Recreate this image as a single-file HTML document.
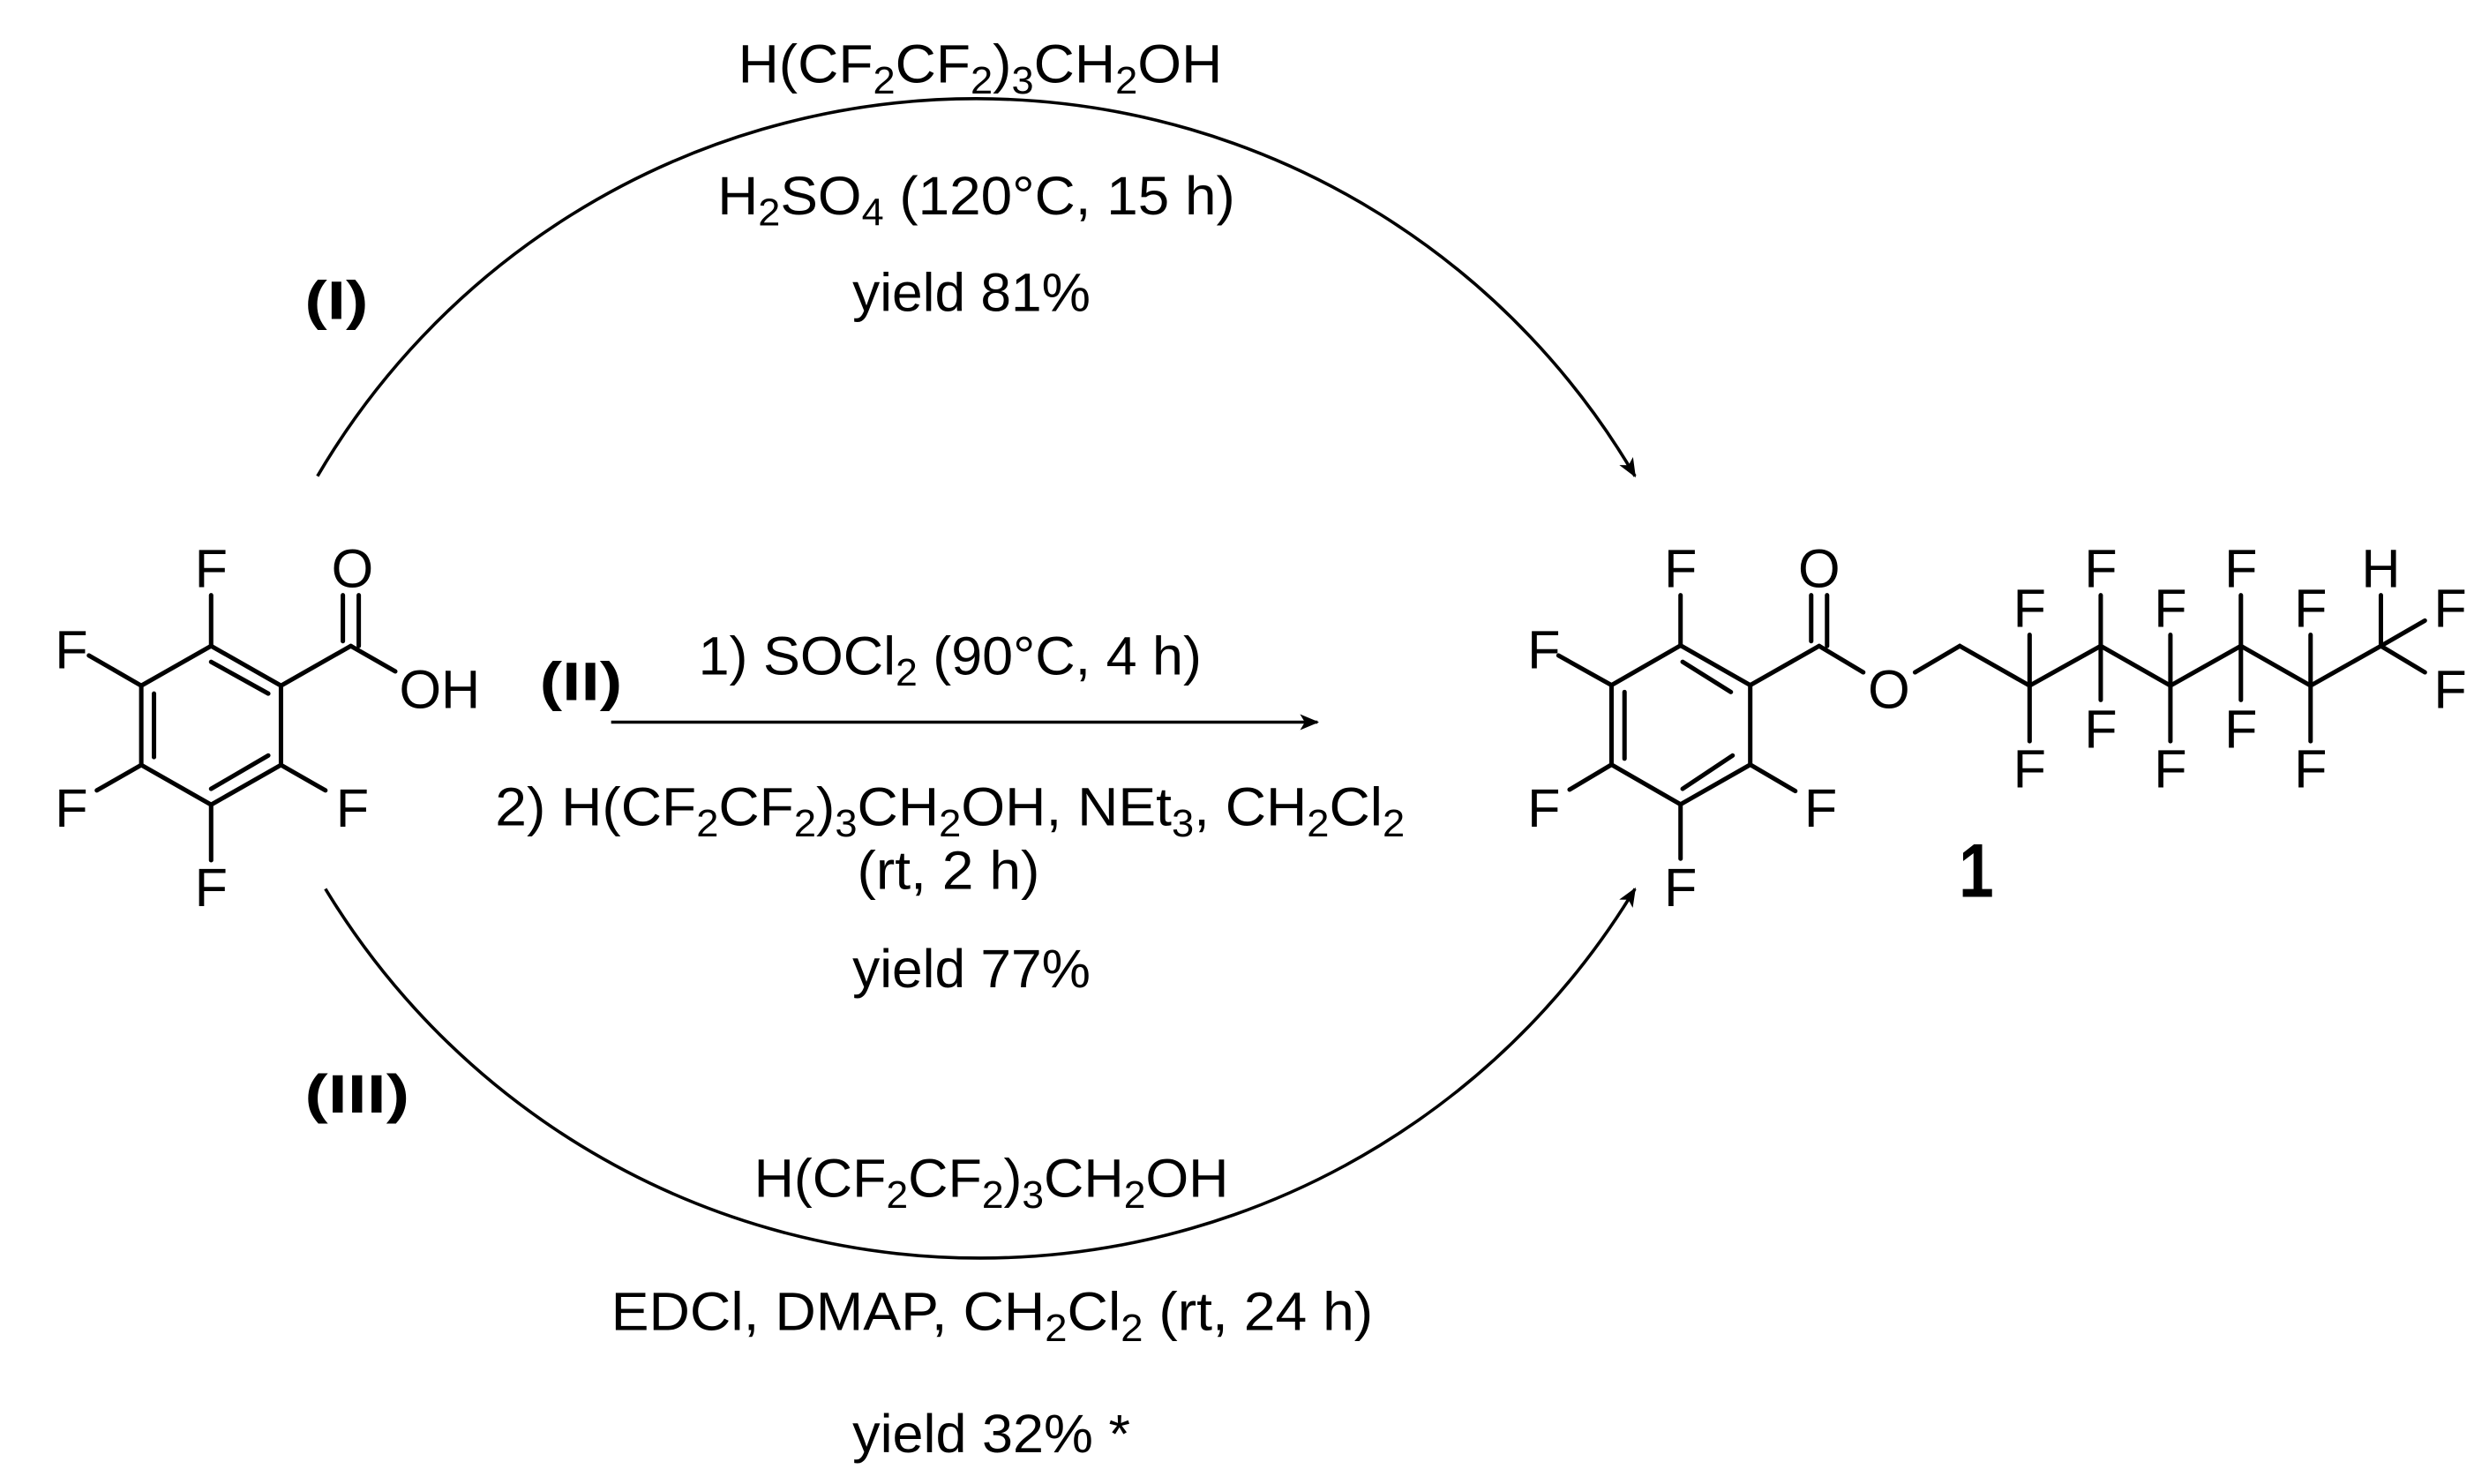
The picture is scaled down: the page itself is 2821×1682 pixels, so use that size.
<!DOCTYPE html>
<html><head><meta charset="utf-8"><style>html,body{margin:0;padding:0;background:#fff}svg{display:block}</style></head>
<body>
<svg xmlns="http://www.w3.org/2000/svg" width="2821" height="1682" viewBox="0 0 1568 935" preserveAspectRatio="none" font-family="Liberation Sans, Arial, sans-serif">
<defs>
<marker id="ah" viewBox="0 0 12 10" refX="11" refY="5" markerWidth="12" markerHeight="10" markerUnits="userSpaceOnUse" orient="auto">
<path d="M0,0 L12,5 L0,10 L3,5 Z" fill="#000"/></marker>
</defs>
<rect width="1568" height="935" fill="#fff"/>
<g fill="none" stroke="#000" stroke-width="2">
<path d="M200,300 A481,481 0 0 1 1030,300" marker-end="url(#ah)"/>
<path d="M205,560 A482,482 0 0 0 1030,560" marker-end="url(#ah)"/>
<line x1="385" y1="455" x2="830" y2="455" marker-end="url(#ah)"/>
</g>
<g stroke="#000" stroke-width="2.8" fill="none" stroke-linecap="round">
<path d="M133,407 L177,432 L177,482 L133,507 L89,482 L89,432 Z"/>
<line x1="133" y1="417" x2="169" y2="437"/>
<line x1="169" y1="476" x2="133" y2="497"/>
<line x1="97" y1="437" x2="97" y2="477"/>
<line x1="133" y1="407" x2="133" y2="375"/>
<line x1="89" y1="432" x2="56" y2="413"/>
<line x1="89" y1="482" x2="61" y2="498"/>
<line x1="133" y1="507" x2="133" y2="542"/>
<line x1="177" y1="482" x2="205" y2="498"/>
<line x1="177" y1="432" x2="221" y2="407"/>
<line x1="216" y1="404" x2="216" y2="375"/>
<line x1="226" y1="407" x2="226" y2="375"/>
<line x1="221" y1="407" x2="249" y2="423"/>
</g>
<g font-size="34" text-anchor="middle" fill="#000">
<text x="133" y="370">F</text>
<text x="222" y="370">O</text>
<text x="277" y="446">OH</text>
<text x="45" y="421">F</text>
<text x="45" y="521">F</text>
<text x="222" y="521">F</text>
<text x="133" y="571">F</text>
</g>
<g stroke="#000" stroke-width="2.8" fill="none" stroke-linecap="round">
<path d="M1058.7,406.7 L1102.6,431.7 L1102.6,481.8 L1058.7,506.8 L1015.2,481.8 L1015.2,431.7 Z"/>
<line x1="1060" y1="417" x2="1090.4" y2="436"/>
<line x1="1091.5" y1="476" x2="1060" y2="497"/>
<line x1="1023.4" y1="436" x2="1023.4" y2="478"/>
<line x1="1058.7" y1="406.7" x2="1058.7" y2="375"/>
<line x1="1015.2" y1="431.7" x2="981.8" y2="413"/>
<line x1="1015.2" y1="481.8" x2="988.8" y2="497.5"/>
<line x1="1102.6" y1="481.8" x2="1131" y2="498.4"/>
<line x1="1058.7" y1="506.8" x2="1058.7" y2="541"/>
<line x1="1102.6" y1="431.7" x2="1146" y2="407"/>
<line x1="1141" y1="404" x2="1141" y2="375"/>
<line x1="1151" y1="407" x2="1151" y2="375"/>
<polyline points="1146,407 1173.8,423.6"/>
<polyline points="1206.4,423.6 1234.6,407 1278.6,432 1323.4,407 1367.3,432 1411.7,407 1455.6,432 1499.9,407"/>
<line x1="1499.9" y1="407" x2="1527.6" y2="391"/>
<line x1="1499.9" y1="407" x2="1527.6" y2="423.6"/>
<line x1="1499.9" y1="407" x2="1499.9" y2="375"/>
<line x1="1278.6" y1="400" x2="1278.6" y2="467"/>
<line x1="1323.4" y1="375" x2="1323.4" y2="441"/>
<line x1="1367.3" y1="400" x2="1367.3" y2="467"/>
<line x1="1411.7" y1="375" x2="1411.7" y2="441"/>
<line x1="1455.6" y1="400" x2="1455.6" y2="467"/>
</g>
<g font-size="34" text-anchor="middle" fill="#000">
<text x="1058.7" y="370">F</text>
<text x="1146" y="370">O</text>
<text x="972.6" y="421">F</text>
<text x="972.6" y="521">F</text>
<text x="1147" y="521">F</text>
<text x="1058.7" y="571">F</text>
<text x="1190" y="446">O</text>
<text x="1278.6" y="395">F</text><text x="1278.6" y="496">F</text>
<text x="1323.4" y="370">F</text><text x="1323.4" y="471">F</text>
<text x="1367.3" y="395">F</text><text x="1367.3" y="496">F</text>
<text x="1411.7" y="370">F</text><text x="1411.7" y="471">F</text>
<text x="1455.6" y="395">F</text><text x="1455.6" y="496">F</text>
<text x="1499.9" y="370">H</text>
<text x="1543.6" y="395">F</text>
<text x="1543.6" y="446">F</text>
<text x="1245" y="565" font-size="48" font-weight="bold" textLength="22" lengthAdjust="spacingAndGlyphs">1</text>
</g>
<g font-size="34" fill="#000">
<text x="465" y="52" textLength="305" lengthAdjust="spacingAndGlyphs">H(CF<tspan font-size="24" dy="7">2</tspan><tspan dy="-7">CF</tspan><tspan font-size="24" dy="7">2</tspan><tspan dy="-7">)</tspan><tspan font-size="24" dy="7">3</tspan><tspan dy="-7">CH</tspan><tspan font-size="24" dy="7">2</tspan><tspan dy="-7">OH</tspan></text>
<text x="452" y="135" textLength="326" lengthAdjust="spacingAndGlyphs">H<tspan font-size="24" dy="7">2</tspan><tspan dy="-7">SO</tspan><tspan font-size="24" dy="7">4</tspan><tspan dy="-7"> (120°C, 15 h)</tspan></text>
<text x="537" y="196" textLength="150" lengthAdjust="spacingAndGlyphs">yield 81%</text>
<text x="192" y="201" font-weight="bold" textLength="40" lengthAdjust="spacingAndGlyphs">(I)</text>
<text x="340" y="441" font-weight="bold" textLength="52" lengthAdjust="spacingAndGlyphs">(II)</text>
<text x="440" y="425" textLength="317" lengthAdjust="spacingAndGlyphs">1) SOCl<tspan font-size="24" dy="7">2</tspan><tspan dy="-7"> (90°C, 4 h)</tspan></text>
<text x="312" y="520" textLength="573" lengthAdjust="spacingAndGlyphs">2) H(CF<tspan font-size="24" dy="7">2</tspan><tspan dy="-7">CF</tspan><tspan font-size="24" dy="7">2</tspan><tspan dy="-7">)</tspan><tspan font-size="24" dy="7">3</tspan><tspan dy="-7">CH</tspan><tspan font-size="24" dy="7">2</tspan><tspan dy="-7">OH, NEt</tspan><tspan font-size="24" dy="7">3</tspan><tspan dy="-7">, CH</tspan><tspan font-size="24" dy="7">2</tspan><tspan dy="-7">Cl</tspan><tspan font-size="24" dy="7">2</tspan></text>
<text x="540" y="560" textLength="115" lengthAdjust="spacingAndGlyphs">(rt, 2 h)</text>
<text x="537" y="622" textLength="150" lengthAdjust="spacingAndGlyphs">yield 77%</text>
<text x="192" y="701" font-weight="bold" textLength="66" lengthAdjust="spacingAndGlyphs">(III)</text>
<text x="475" y="754" textLength="299" lengthAdjust="spacingAndGlyphs">H(CF<tspan font-size="24" dy="7">2</tspan><tspan dy="-7">CF</tspan><tspan font-size="24" dy="7">2</tspan><tspan dy="-7">)</tspan><tspan font-size="24" dy="7">3</tspan><tspan dy="-7">CH</tspan><tspan font-size="24" dy="7">2</tspan><tspan dy="-7">OH</tspan></text>
<text x="385" y="838" textLength="480" lengthAdjust="spacingAndGlyphs">EDCl, DMAP,  CH<tspan font-size="24" dy="7">2</tspan><tspan dy="-7">Cl</tspan><tspan font-size="24" dy="7">2</tspan><tspan dy="-7"> (rt, 24 h)</tspan></text>
<text x="537" y="915" textLength="175" lengthAdjust="spacingAndGlyphs">yield 32% *</text>
</g>
</svg>
</body></html>
